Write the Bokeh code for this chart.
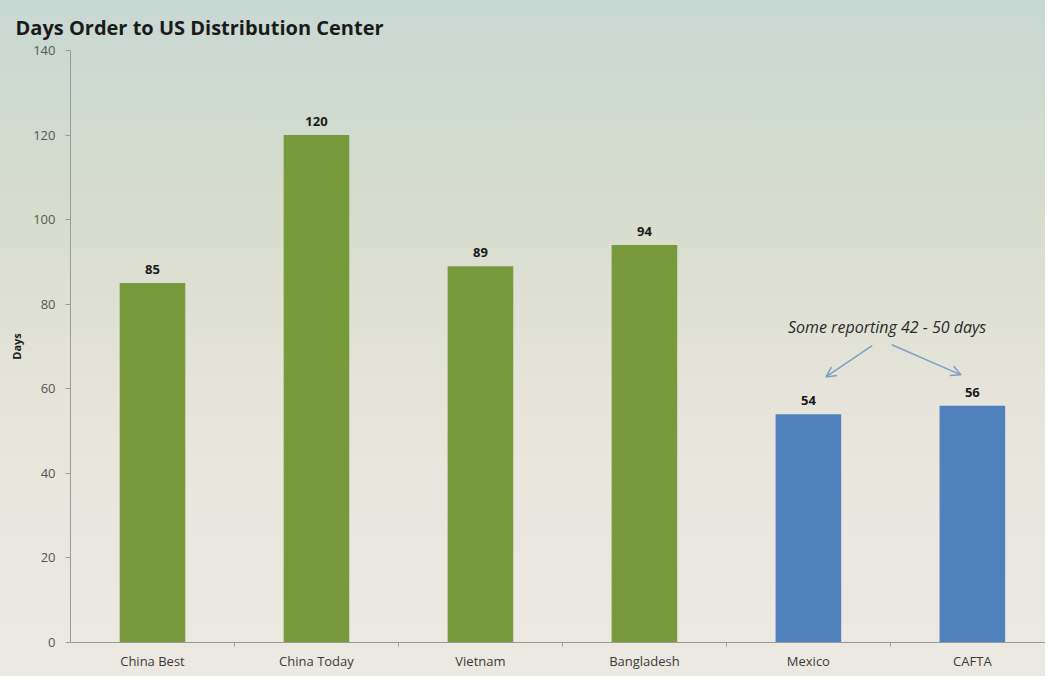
from bokeh.plotting import figure
from bokeh.models import (Range1d, FixedTicker, ColumnDataSource, LabelSet, Label,
                          Arrow, OpenHead, Title)
from bokeh.embed import file_html
from bokeh.resources import INLINE
from bokeh.core.properties import value

categories = ["China Best", "China Today", "Vietnam", "Bangladesh", "Mexico", "CAFTA"]
days = [85, 120, 89, 94, 54, 56]
bar_colors = ["#789a3c", "#789a3c", "#789a3c", "#789a3c", "#4f81bd", "#4f81bd"]
y_ticks = [0, 20, 40, 60, 80, 100, 120, 140]
title_text = "Days Order to US Distribution Center"
note_text = "Some reporting 42 - 50 days"

xs = [i + 0.5 for i in range(len(categories))]
src = ColumnDataSource(dict(x=xs, top=days, color=bar_colors,
                            label=[str(d) for d in days]))

p = figure(width=1045, height=676, output_backend="svg", toolbar_location=None,
           x_range=Range1d(0, 5.946), y_range=Range1d(0, 140),
           min_border_left=70, min_border_right=0, min_border_top=50,
           min_border_bottom=34)
p.border_fill_color = None
p.background_fill_color = None
p.outline_line_color = None
p.styles = {"background-image":
            "linear-gradient(to bottom, #c8d8d4 0%, #d6dccc 30%, #e6e4da 58%, #ebe8e2 88%, #ece9e3 100%)"}

p.title = Title(text=title_text, text_font="Open Sans",
                text_font_size="20px", text_font_style="bold", text_color="#1a1a1a",
                offset=-55, standoff=20)

p.vbar(x="x", top="top", width=0.4, bottom=0, fill_color="color", line_color=None, source=src)

p.add_layout(LabelSet(x="x", y="top", text="label", source=src, text_align="center",
                      text_baseline="bottom", y_offset=9, text_font=value("Open Sans"),
                      text_font_size="13px", text_font_style="bold", text_color="#1a1a1a"))

p.xgrid.visible = False
p.ygrid.visible = False

p.xaxis.ticker = FixedTicker(ticks=xs, minor_ticks=[1, 2, 3, 4, 5])
p.xaxis.major_label_overrides = {x: c for x, c in zip(xs, categories)}
p.xaxis.major_tick_line_color = None
p.xaxis.minor_tick_out = 4
p.xaxis.minor_tick_in = 0
p.xaxis.minor_tick_line_color = "#9a9a9a"
p.xaxis.axis_line_color = "#9a9a9a"
p.xaxis.major_label_standoff = 3
p.xaxis.major_label_text_font = "Open Sans"
p.xaxis.major_label_text_font_size = "13px"
p.xaxis.major_label_text_color = "#3a3a3a"

p.yaxis.ticker = FixedTicker(ticks=y_ticks)
p.yaxis.minor_tick_line_color = None
p.yaxis.major_tick_out = 5
p.yaxis.major_tick_in = 0
p.yaxis.major_tick_line_color = "#9a9a9a"
p.yaxis.axis_line_color = "#9a9a9a"
p.yaxis.major_label_standoff = 10
p.yaxis.major_label_text_font = "Open Sans"
p.yaxis.major_label_text_font_size = "13px"
p.yaxis.major_label_text_color = "#555555"
p.yaxis.axis_label = "Days"
p.yaxis.axis_label_text_font = "Open Sans"
p.yaxis.axis_label_text_font_size = "11px"
p.yaxis.axis_label_text_font_style = "bold"
p.yaxis.axis_label_text_color = "#1a1a1a"
p.yaxis.axis_label_standoff = 6

note_x, note_y = 4.98, 74.5
p.add_layout(Label(x=note_x, y=note_y, text=note_text, text_align="center",
                   text_baseline="middle", text_font="Open Sans",
                   text_font_size="16px", text_font_style="italic", text_color="#2a2a2a"))

arrow_color = "#7f9fc4"
arrows = [((4.889, 70.2), (4.607, 62.8)), ((5.009, 70.4), (5.43, 63.3))]
for (x0, y0), (x1, y1) in arrows:
    p.add_layout(Arrow(x_start=x0, y_start=y0, x_end=x1, y_end=y1,
                       line_color=arrow_color, line_width=1.5,
                       end=OpenHead(size=10, line_color=arrow_color, line_width=1.5)))

open("out.html", "w").write(file_html(p, INLINE))
